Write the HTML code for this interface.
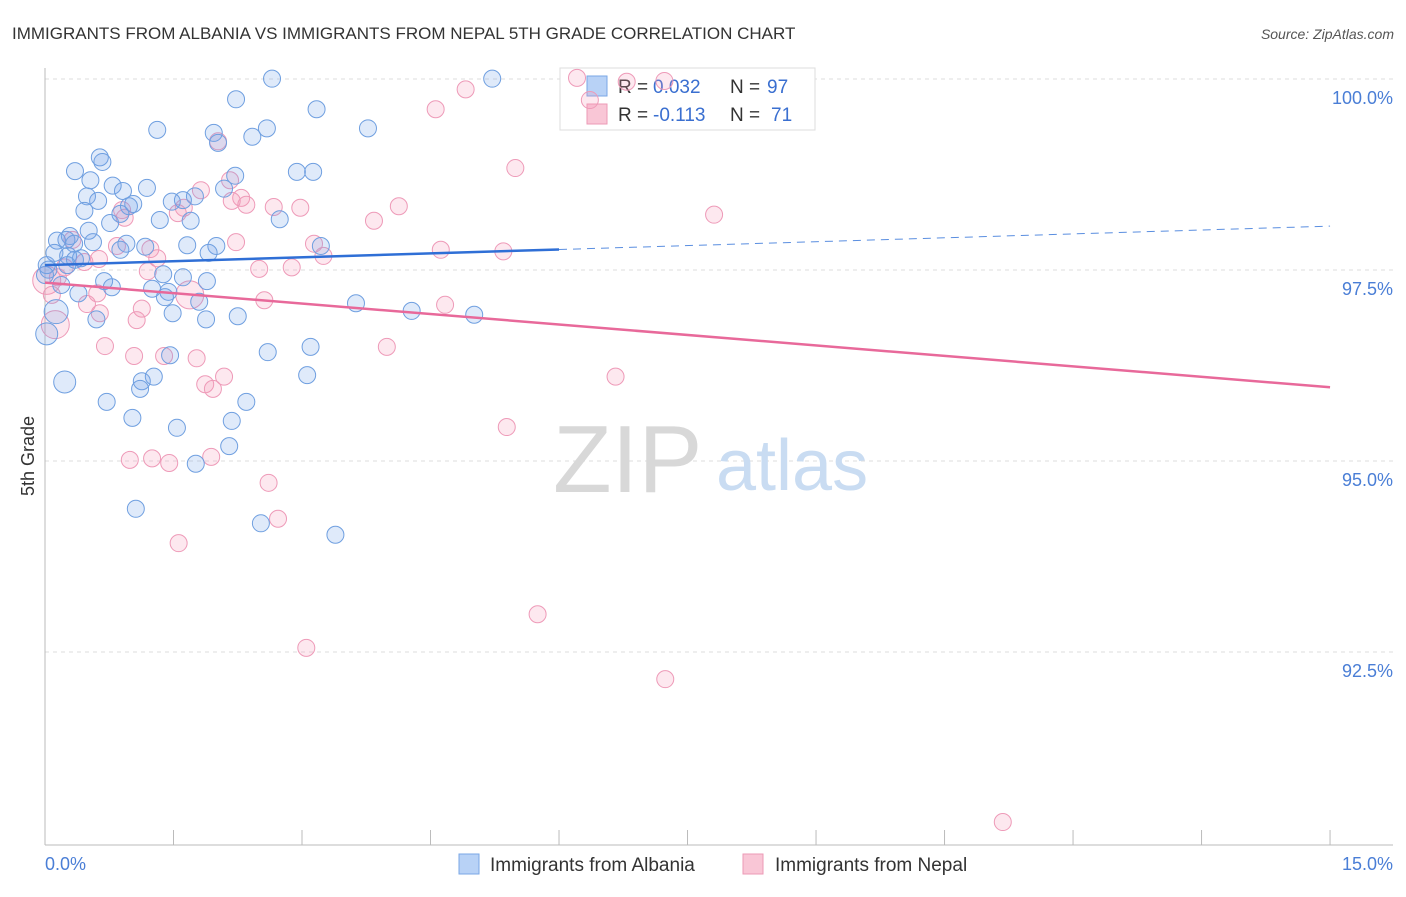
<!DOCTYPE html>
<html><head><meta charset="utf-8"><style>
body{margin:0;background:#fff;font-family:"Liberation Sans",sans-serif}
svg text{font-family:"Liberation Sans",sans-serif}
</style></head><body>
<svg id="chart" width="1406" height="892" viewBox="0 0 1406 892" xmlns="http://www.w3.org/2000/svg">
<text x="12" y="39" font-size="17" fill="#333">IMMIGRANTS FROM ALBANIA VS IMMIGRANTS FROM NEPAL 5TH GRADE CORRELATION CHART</text>
<text x="1394" y="39" font-size="14" fill="#555" text-anchor="end" font-style="italic">Source: ZipAtlas.com</text>
<g id="grid"></g>
<g>
<text x="553" y="492" font-size="96" fill="#d8d8d8" font-family="Liberation Serif">ZIP</text>
<text x="716" y="490" font-size="72" fill="#c9dcf2">atlas</text>
</g>
<g>
<rect x="560" y="68" width="255" height="62" fill="#fff" stroke="#ddd"/>
<rect x="587" y="76" width="20" height="20" fill="#b8d2f6" stroke="#7aa7e6"/>
<text x="618" y="93" font-size="19" fill="#333">R =</text>
<text x="653" y="93" font-size="19" fill="#3a6fd0">0.032</text>
<text x="730" y="93" font-size="19" fill="#333">N =</text>
<text x="767" y="93" font-size="19" fill="#3a6fd0">97</text>
<rect x="587" y="104" width="20" height="20" fill="#f9c6d6" stroke="#ec9ab6"/>
<text x="618" y="121" font-size="19" fill="#333">R =</text>
<text x="653" y="121" font-size="19" fill="#3a6fd0">-0.113</text>
<text x="730" y="121" font-size="19" fill="#333">N =</text>
<text x="771" y="121" font-size="19" fill="#3a6fd0">71</text>
</g>
<g id="axes"></g>
<g id="points"></g>
<g id="trends"></g>
<text transform="translate(34,456) rotate(-90)" font-size="18" fill="#333" text-anchor="middle">5th Grade</text>
<g>
<rect x="459" y="854" width="20" height="20" fill="#b8d2f6" stroke="#7aa7e6"/>
<text x="490" y="871" font-size="19" fill="#333">Immigrants from Albania</text>
<rect x="743" y="854" width="20" height="20" fill="#f9c6d6" stroke="#ec9ab6"/>
<text x="775" y="871" font-size="19" fill="#333">Immigrants from Nepal</text>
</g>
</svg>
<script>
const blueX=[2.65,5.22,2.23,3.17,1.31,2.59,3.77,1.97,2.42,2.02,0.64,0.67,0.35,2.94,3.13,2.22,0.53,0.79,1.19,0.91,2.09,0.49,0.62,1.75,1.61,1.48,1.03,0.98,0.46,0.88,1.34,2.74,1.70,0.76,0.29,0.51,0.25,0.14,0.34,0.56,0.95,1.66,2.00,3.22,1.17,1.91,0.88,0.11,0.27,0.42,0.35,0.02,0.04,1.38,1.61,0.69,1.89,0.19,0.78,1.25,1.44,0.39,1.40,1.80,3.63,4.28,5.01,1.49,0.60,1.88,2.25,0.13,0.02,3.10,2.60,1.46,0.23,1.27,1.13,1.11,3.06,0.72,2.35,1.02,2.18,1.54,2.15,1.76,1.06,2.52,3.39,0.26,0.00];
const blueY=[100.24,100.24,99.97,99.84,99.57,99.59,99.59,99.53,99.48,99.40,99.21,99.15,99.03,99.02,99.02,98.97,98.91,98.84,98.81,98.77,98.80,98.70,98.64,98.70,98.65,98.63,98.60,98.57,98.51,98.47,98.39,98.40,98.38,98.35,98.18,98.25,98.13,98.12,98.08,98.10,98.08,98.06,98.05,98.05,98.04,97.96,98.00,97.96,97.92,97.89,97.87,97.80,97.74,97.68,97.64,97.59,97.59,97.54,97.51,97.49,97.45,97.43,97.38,97.32,97.30,97.20,97.15,97.17,97.09,97.09,97.13,97.19,96.90,96.73,96.66,96.62,96.27,96.34,96.28,96.18,96.36,96.01,96.01,95.80,95.76,95.67,95.43,95.20,94.61,94.42,94.27,97.80,97.67];
const pinkX=[6.21,6.79,7.23,4.91,4.56,6.36,5.49,2.02,1.82,2.29,2.35,2.18,2.67,2.98,1.62,0.90,4.13,3.84,7.81,0.93,1.55,2.23,3.14,4.62,5.35,0.84,0.32,1.23,1.31,0.23,0.63,0.46,2.50,2.88,3.25,1.20,0.15,0.02,1.69,2.56,0.61,4.67,0.49,1.13,0.64,0.12,1.07,0.70,1.04,1.39,1.77,3.99,2.09,1.87,1.96,6.66,5.39,0.99,1.25,1.45,1.94,2.61,2.72,1.56,5.75,3.05,7.24,11.18,0.08,2.16];
const pinkY=[100.25,100.20,100.21,100.10,99.84,99.96,99.07,99.42,98.78,98.68,98.59,98.64,98.56,98.55,98.55,98.52,98.57,98.38,98.46,98.42,98.48,98.10,98.08,98.00,97.98,98.05,98.13,98.01,97.89,97.77,97.88,97.84,97.75,97.77,97.92,97.72,97.64,97.60,97.41,97.34,97.43,97.28,97.29,97.23,97.17,97.02,97.08,96.74,96.61,96.61,96.58,96.73,96.34,96.24,96.18,96.34,95.68,95.25,95.27,95.21,95.29,94.95,94.48,94.16,93.23,92.79,92.38,90.51,97.41,98.91];
const bigPink=[45,37,38];
const blueTrend=[97.80,0.034];
const pinkTrend=[97.57,-0.0913];
const yTicks=[100,97.5,95,92.5];const yTickLabels=["100.0%","97.5%","95.0%","92.5%"];
const xTicks=[0,1.5,3,4.5,6,7.5,9,10.5,12,13.5,15];
const NS="http://www.w3.org/2000/svg";
const x=v=>45+v*85.67;
const y=v=>97+(100-v)*76.4;
function mk(tag,attrs,parent){const e=document.createElementNS(NS,tag);for(const k in attrs)e.setAttribute(k,attrs[k]);parent.appendChild(e);return e;}
const grid=document.getElementById('grid'),axes=document.getElementById('axes');
yTicks.forEach((t,i)=>{
 const gl=mk('line',{x1:45,x2:1393,y1:y(t)-18,y2:y(t)-18,stroke:'#ddd','stroke-dasharray':'4,4'},grid);
 
 
 const tl=mk('text',{x:1393,y:y(t)+7,'font-size':18,fill:'#4a7ed6','text-anchor':'end'},axes);
 tl.textContent=yTickLabels[i];
 
 
});
const ax=mk('line',{x1:45,x2:1393,y1:845,y2:845,stroke:'#bbb'},axes);


const ay=mk('line',{x1:45,x2:45,y1:68,y2:845,stroke:'#bbb'},axes);


xTicks.forEach(t=>{const l=mk('line',{x1:x(t),x2:x(t),y1:830,y2:845,stroke:'#bbb'},axes);
 
 });
const xl0=mk('text',{x:45,y:870,'font-size':18,fill:'#4a7ed6'},axes);xl0.textContent='0.0%';


const xl1=mk('text',{x:1393,y:870,'font-size':18,fill:'#4a7ed6','text-anchor':'end'},axes);xl1.textContent='15.0%';


const pts=document.getElementById('points');
pinkX.forEach((v,i)=>{const c=mk('circle',{cx:x(v),cy:y(pinkY[i]),r:bigPink.includes(i)?14:8.5,fill:'rgba(244,150,180,0.22)',stroke:'#ee9ab8','stroke-width':1},pts);
 
 });
blueX.forEach((v,i)=>{const c=mk('circle',{cx:x(v),cy:y(blueY[i]),r:[72,76].includes(i)?11:(i==71?12:8.5),fill:'rgba(110,160,230,0.22)',stroke:'#6f9fe0','stroke-width':1},pts);
 
 });
const tr=document.getElementById('trends');
const bt=v=>blueTrend[0]+blueTrend[1]*v, pt=v=>pinkTrend[0]+pinkTrend[1]*v;
const b1=mk('line',{x1:x(0),y1:y(bt(0)),x2:x(6),y2:y(bt(6)),stroke:'#2f6fd6','stroke-width':2.5},tr);


const b2=mk('line',{x1:x(6),y1:y(bt(6)),x2:x(15),y2:y(bt(15)),stroke:'#5a8ee0','stroke-width':1,'stroke-dasharray':'8,6'},tr);


const p1=mk('line',{x1:x(0),y1:y(pt(0)),x2:x(15),y2:y(pt(15)),stroke:'#e8699a','stroke-width':2.5},tr);


</script>
</body></html>
